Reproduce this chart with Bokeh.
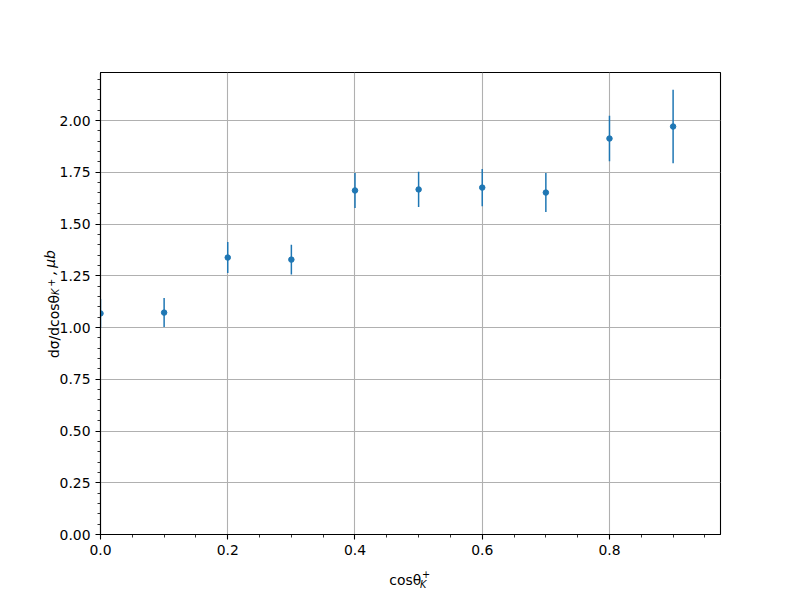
import numpy as np
from bokeh.plotting import figure
from bokeh.models import ColumnDataSource, Range1d, FixedTicker, NumeralTickFormatter, Label
from bokeh.embed import file_html
from bokeh.resources import INLINE

cos_theta = [0.0, 0.1, 0.2, 0.3, 0.4, 0.5, 0.6, 0.7, 0.8, 0.9]
dsigma = [1.068, 1.072, 1.338, 1.328, 1.662, 1.667, 1.676, 1.652, 1.913, 1.971]
dsigma_err = [0.07, 0.07, 0.075, 0.072, 0.085, 0.085, 0.09, 0.094, 0.11, 0.178]

x_major_ticks = [0.0, 0.2, 0.4, 0.6, 0.8]
x_minor_ticks = [round(0.05 * i, 2) for i in range(0, 20)]
y_major_ticks = [0.0, 0.25, 0.5, 0.75, 1.0, 1.25, 1.5, 1.75, 2.0]
y_minor_ticks = [round(0.05 * i, 2) for i in range(0, 45)]

x_limits = (0.0, 0.9745)
y_limits = (0.0, 2.232)

BLUE = "#1f77b4"
FONT = "DejaVu Sans"
FS = "13.9px"
FS_SUB = "9.7px"

y = np.array(dsigma)
e = np.array(dsigma_err)
src = ColumnDataSource(dict(x=cos_theta, y=dsigma, lo=y - e, hi=y + e))

p = figure(
    frame_width=620, frame_height=462,
    min_border_left=100, min_border_right=64, min_border_top=72, min_border_bottom=66,
    x_range=Range1d(*x_limits), y_range=Range1d(*y_limits),
    output_backend="svg", toolbar_location=None,
)
p.background_fill_color = "white"
p.border_fill_color = "white"
p.outline_line_color = "black"
p.outline_line_width = 1.1

p.segment(x0="x", y0="lo", x1="x", y1="hi", source=src, line_color=BLUE, line_width=1.5)
p.scatter(x="x", y="y", source=src, marker="circle", size=5.5, fill_color=BLUE, line_color=BLUE)

p.xaxis.ticker = FixedTicker(ticks=x_major_ticks, minor_ticks=x_minor_ticks)
p.yaxis.ticker = FixedTicker(ticks=y_major_ticks, minor_ticks=y_minor_ticks)
p.xaxis.formatter = NumeralTickFormatter(format="0.0")
p.yaxis.formatter = NumeralTickFormatter(format="0.00")

for ax in (p.xaxis[0], p.yaxis[0]):
    ax.axis_line_color = "black"
    ax.axis_line_width = 1.1
    ax.major_tick_line_color = "black"
    ax.minor_tick_line_color = "black"
    ax.major_tick_line_width = 1.1
    ax.minor_tick_line_width = 0.8
    ax.major_tick_in = 0
    ax.major_tick_out = 5
    ax.minor_tick_in = 0
    ax.minor_tick_out = 3
    ax.major_label_standoff = 5
    ax.major_label_text_font = FONT
    ax.major_label_text_font_size = FS
    ax.major_label_text_color = "black"

for g in (p.xgrid[0], p.ygrid[0]):
    g.grid_line_color = "#b0b0b0"
    g.grid_line_width = 1.1


def mk(text, xo, yo, size=FS, style="normal", angle=0.0):
    return Label(x=xo, y=yo, x_units="screen", y_units="screen", text=text, angle=angle,
                 text_font=FONT, text_font_size=size, text_font_style=style,
                 text_color="black", text_align="left", text_baseline="alphabetic")

# Labels live in side panels (not clipped); each panel stacks its labels outward.
H13, H10 = 16.2, 11.3   # line heights of the label boxes

# x label  cosθ_K^+  -> "above" panel, positions measured from the frame top-left
b0 = 72.0
b1 = b0 - H13
b2 = b1 - H10
xlab = [
    mk("cosθ", 288.8, b0 - 579.0),
    mk("K", 319.5, b1 - 584.0, size=FS_SUB, style="italic"),
    mk("+", 321.5, b2 - 572.7, size=FS_SUB),
]
for l in xlab:
    p.add_layout(l, "above")

# y label  dσ/dcosθ_{K^+}, μb  -> "right" panel, rotated
A = np.pi / 2
r0 = 720.0
r1 = r0 + H13
r2 = r1 + H10
r3 = r2 + H10
ylab = [
    mk("dσ/dcosθ", 53.5 - r0, 534 - 357.5, angle=A),
    mk("K", 55.0 - r1, 534 - 294.5, size=FS_SUB, style="italic", angle=A),
    mk("+", 50.7 - r2, 534 - 286.3, size=FS_SUB, angle=A),
    mk(",\u2009μb", 53.5 - r3, 534 - 274.5, style="italic", angle=A),
]
for l in ylab:
    p.add_layout(l, "right")

open("out.html", "w").write(file_html(p, INLINE))
